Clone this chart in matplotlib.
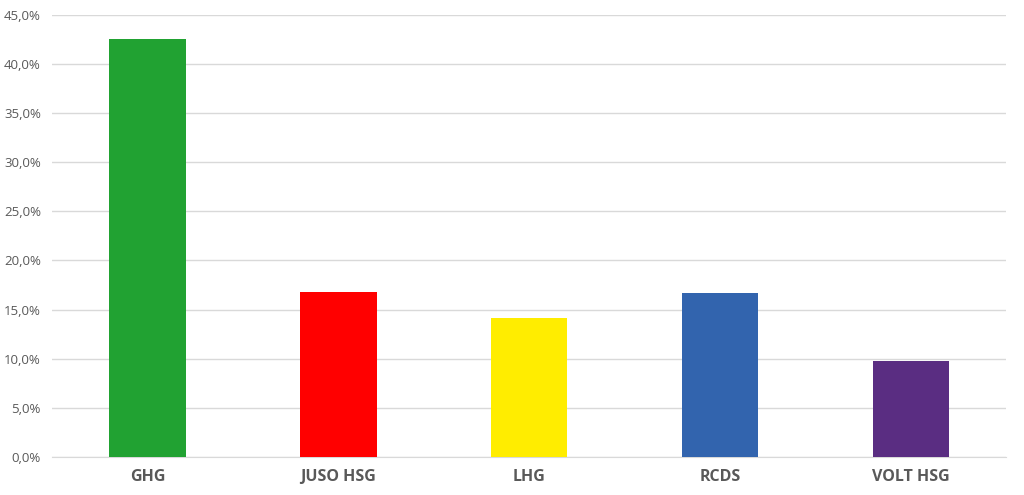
import matplotlib
matplotlib.use("Agg")
import matplotlib.pyplot as plt
from matplotlib.ticker import FuncFormatter, MultipleLocator

# Stimmenanteile
parties = ["GHG", "JUSO HSG", "LHG", "RCDS", "VOLT HSG"]
shares = [42.5, 16.8, 14.1, 16.7, 9.8]
colors = ["#21A232", "#FF0000", "#FFED00", "#3264AE", "#5A2D82"]

plt.rcParams["font.family"] = ["Open Sans", "DejaVu Sans"]

fig = plt.figure(figsize=(10.24, 4.95), dpi=100)
ax = fig.add_axes([0.0508, 0.0768, 0.932, 0.8932])

ax.bar(range(len(parties)), shares, width=0.4, color=colors, zorder=3)

ax.set_xlim(-0.5, len(parties) - 0.5)
ax.set_ylim(0, 45)
ax.yaxis.set_major_locator(MultipleLocator(5))
ax.yaxis.set_major_formatter(FuncFormatter(lambda v, p: f"{v:.1f}%".replace(".", ",")))
ax.grid(axis="y", color="#D9D9D9", linewidth=1, zorder=0)

for s in ["top", "right", "left"]:
    ax.spines[s].set_visible(False)
ax.spines["bottom"].set_color("#D9D9D9")

ax.set_xticks(range(len(parties)))
ax.set_xticklabels(parties, fontsize=11.5, fontweight="bold", color="#595959")
ax.tick_params(axis="x", length=0, pad=9)
ax.tick_params(axis="y", length=0, labelsize=9.5, labelcolor="#595959", pad=8)

fig.savefig("out.png", dpi=100)
